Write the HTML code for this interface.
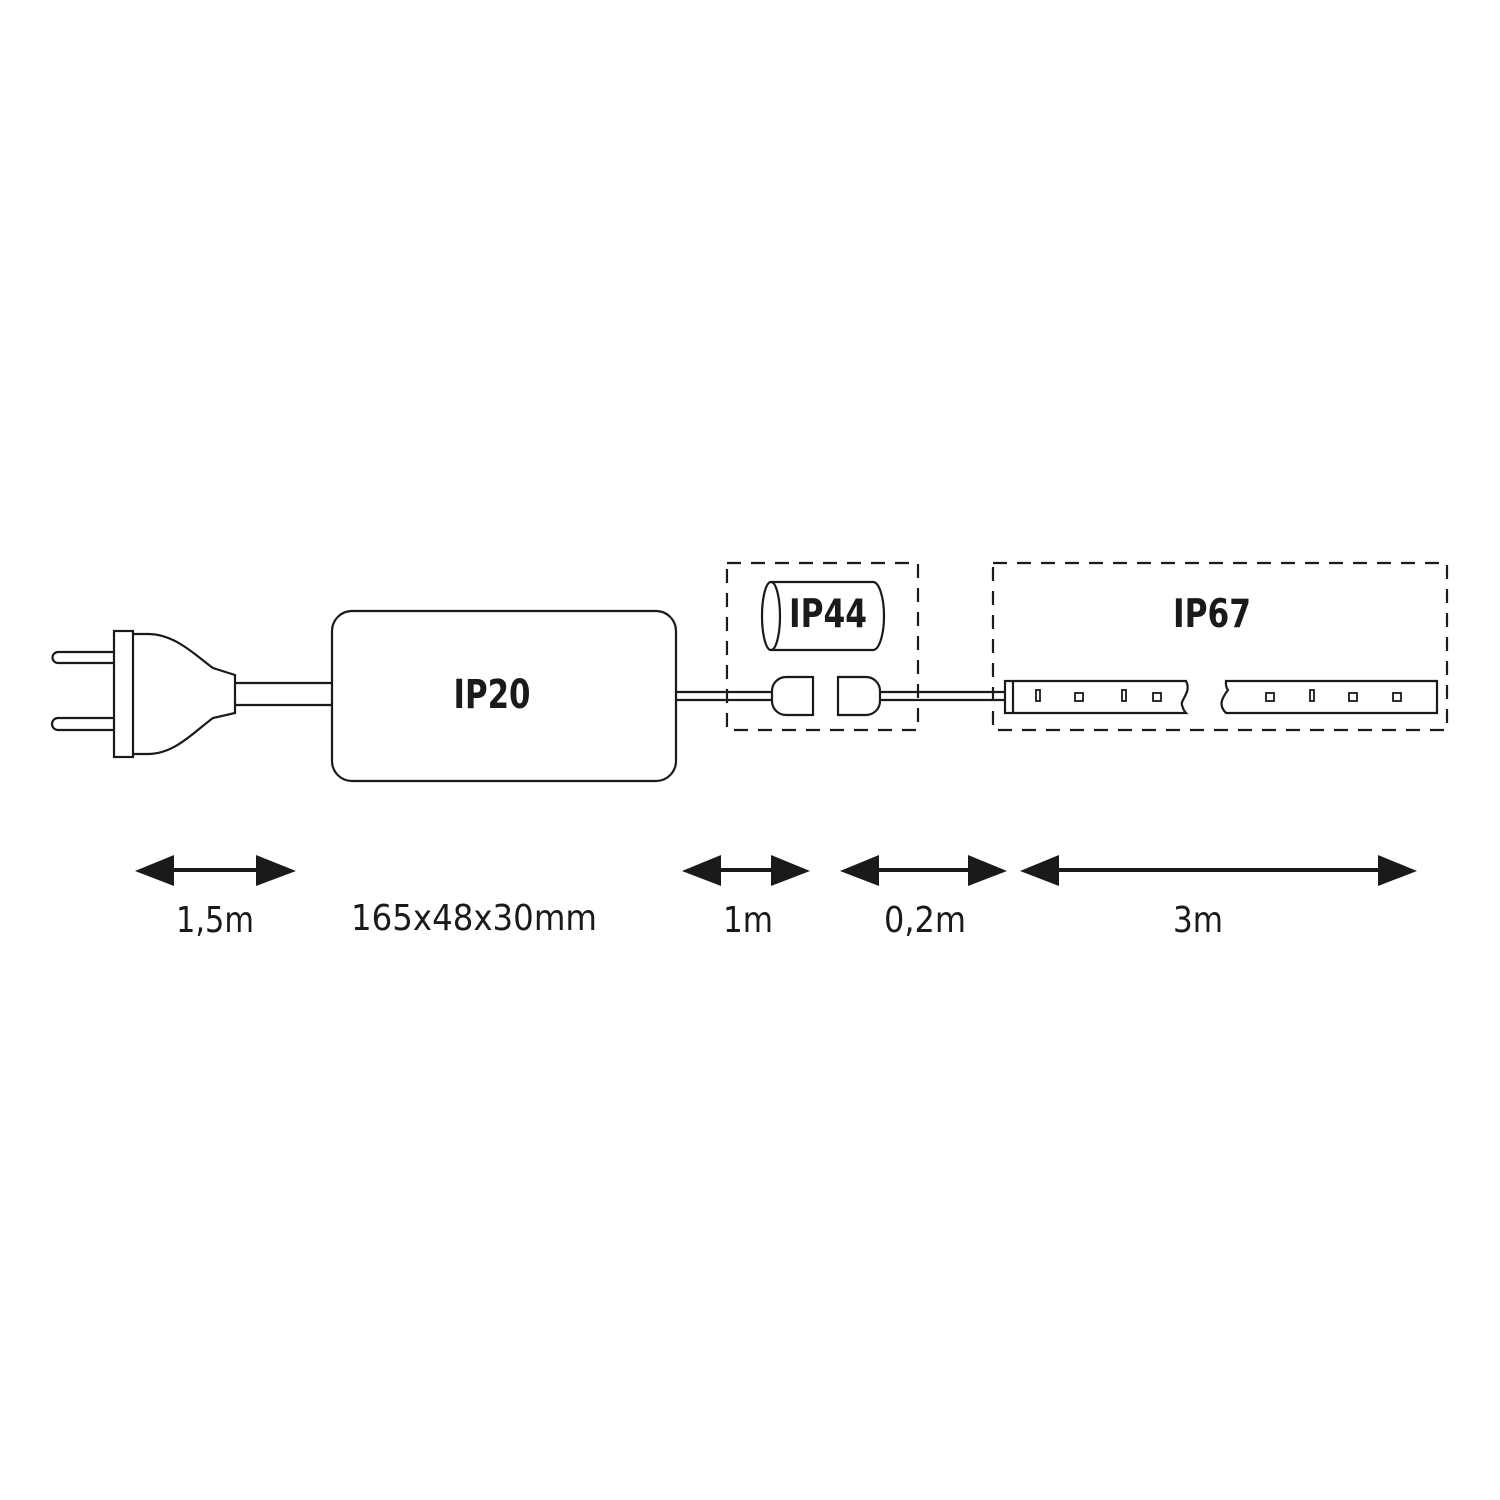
<!DOCTYPE html>
<html><head><meta charset="utf-8"><style>html,body{margin:0;padding:0;background:#fff}svg{display:block}</style></head>
<body>
<svg width="1500" height="1500" viewBox="0 0 1500 1500" xmlns="http://www.w3.org/2000/svg">
<rect width="1500" height="1500" fill="#fff"/>
<g fill="none" stroke="#1a1a1a" stroke-width="2.2">
<!-- plug prongs -->
<path d="M114 652 H58 a5.5 5.5 0 0 0 0 11 H114"/>
<path d="M114 718 H58 a6 6 0 0 0 0 12 H114"/>
<rect x="114" y="631" width="19" height="126"/>
<path d="M133 634 H148 C175 634 195 655 213 668 L235 675 V713 L213 718 C195 731 175 754 148 754 H133"/>
<path d="M235 683 H332 M235 705 H332"/>
<rect x="332" y="611" width="344" height="170" rx="20"/>
<!-- cords -->
<path d="M676 692 H772 M676 700 H772"/>
<path d="M813 677 H786 a14 14 0 0 0 -14 14 V701 a14 14 0 0 0 14 14 H813 Z"/>
<path d="M838 677 H866 a14 14 0 0 1 14 14 V701 a14 14 0 0 1 -14 14 H838 Z"/>
<path d="M880 692 H1005 M880 700 H1005"/>
<!-- cylinder -->
<path d="M771 582 H873 a11 34 0 0 1 0 68 H771"/>
<ellipse cx="771" cy="616" rx="9" ry="34"/>
<!-- strip -->
<rect x="1005" y="681" width="8" height="32"/>
<path d="M1013 681 H1186 C1192 692 1180 700 1182 705 C1183 709 1184 711 1186 713 H1013"/>
<path d="M1226 681 H1437 V713 H1226 C1218 705 1222 698 1228 690 C1225 686 1226 683 1226 681 Z"/>
<rect x="1036" y="690" width="4" height="11" stroke-width="1.8"/>
<rect x="1075" y="693" width="8" height="8" stroke-width="1.8"/>
<rect x="1122" y="690" width="4" height="11" stroke-width="1.8"/>
<rect x="1153" y="693" width="8" height="8" stroke-width="1.8"/>
<rect x="1266" y="693" width="8" height="8" stroke-width="1.8"/>
<rect x="1310" y="690" width="4" height="11" stroke-width="1.8"/>
<rect x="1349" y="693" width="8" height="8" stroke-width="1.8"/>
<rect x="1393" y="693" width="8" height="8" stroke-width="1.8"/>
<!-- dashed boxes -->
<rect x="727" y="563" width="191" height="167" stroke-dasharray="14 10"/>
<rect x="993" y="563" width="454" height="167" stroke-dasharray="14 10"/>
</g>
<g font-family="'DejaVu Sans','Liberation Sans',sans-serif" fill="#1a1a1a" font-weight="bold" text-anchor="middle">
<text x="492" y="708" font-size="40" textLength="77" lengthAdjust="spacingAndGlyphs">IP20</text>
<text x="828" y="627" font-size="39" textLength="78" lengthAdjust="spacingAndGlyphs">IP44</text>
<text x="1212" y="627" font-size="39" textLength="78" lengthAdjust="spacingAndGlyphs">IP67</text>
</g>
<!-- arrows -->
<g stroke="#1a1a1a" stroke-width="4" fill="#1a1a1a">
<line x1="170" y1="870" x2="260" y2="870"/>
<line x1="716" y1="870" x2="776" y2="870"/>
<line x1="874" y1="870" x2="972" y2="870"/>
<line x1="1054" y1="870" x2="1382" y2="870"/>
</g>
<g fill="#1a1a1a">
<path d="M135 871 L174 855 V886 Z"/><path d="M296 871 L256 855 V886 Z"/>
<path d="M682 871 L721 855 V886 Z"/><path d="M810 871 L771 855 V886 Z"/>
<path d="M840 871 L879 855 V886 Z"/><path d="M1007 871 L968 855 V886 Z"/>
<path d="M1020 871 L1059 855 V886 Z"/><path d="M1417 871 L1378 855 V886 Z"/>
</g>
<g font-family="'DejaVu Sans','Liberation Sans',sans-serif" fill="#1a1a1a" font-size="36" text-anchor="middle">
<text x="215" y="932" textLength="78" lengthAdjust="spacingAndGlyphs">1,5m</text>
<text x="474" y="930" textLength="246" lengthAdjust="spacingAndGlyphs">165x48x30mm</text>
<text x="748" y="932" textLength="50" lengthAdjust="spacingAndGlyphs">1m</text>
<text x="925" y="932" textLength="82" lengthAdjust="spacingAndGlyphs">0,2m</text>
<text x="1198" y="932" textLength="50" lengthAdjust="spacingAndGlyphs">3m</text>
</g>
</svg>
</body></html>
